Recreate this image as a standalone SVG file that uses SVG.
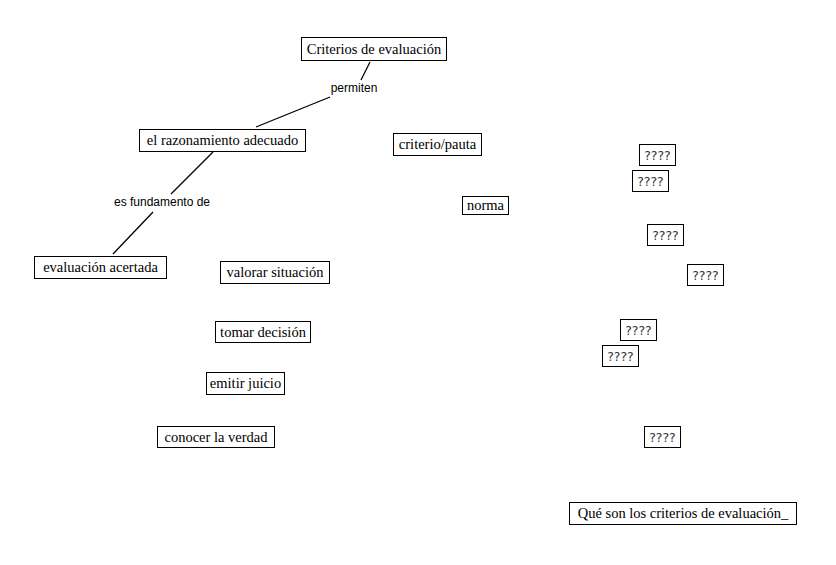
<svg xmlns="http://www.w3.org/2000/svg" width="836" height="565" viewBox="0 0 836 565">
<style>
.b{fill:#fff;stroke:#000;stroke-width:1}
.t{font-family:"Liberation Serif",serif;font-size:14.5px;fill:#000;text-anchor:middle}
.q{font-family:"DejaVu Sans",sans-serif;font-size:12.5px;fill:#333;text-anchor:middle}
.l{font-family:"Liberation Sans",sans-serif;font-size:12px;fill:#000;text-anchor:middle}
.c{stroke:#000;stroke-width:1.3;fill:none}
</style>
<rect width="836" height="565" fill="#fff"/>
<g id="connectors">
<line class="c" x1="370" y1="62" x2="361" y2="80"/>
<line class="c" x1="330" y1="97" x2="256" y2="127"/>
<line class="c" x1="213" y1="152" x2="171" y2="194"/>
<line class="c" x1="153" y1="212" x2="113" y2="254"/>
<text class="l" x="354" y="92">permiten</text>
<text class="l" x="162" y="206">es fundamento de</text>
</g>
<g id="n1"><rect class="b" x="301.5" y="37.5" width="145" height="23"/><text class="t" x="374" y="54">Criterios de evaluación</text></g>
<g id="n2"><rect class="b" x="139.5" y="129.5" width="166" height="22"/><text class="t" x="222.5" y="145">el razonamiento adecuado</text></g>
<g id="n3"><rect class="b" x="34.5" y="256.5" width="132" height="22"/><text class="t" x="100.5" y="272">evaluación acertada</text></g>
<g id="n4"><rect class="b" x="393.5" y="133.5" width="88" height="22"/><text class="t" x="437.5" y="149">criterio/pauta</text></g>
<g id="n5"><rect class="b" x="462.5" y="196.5" width="46" height="18"/><text class="t" x="485.5" y="210">norma</text></g>
<g id="n6"><rect class="b" x="220.5" y="261.5" width="109" height="22"/><text class="t" x="275" y="277">valorar situación</text></g>
<g id="n7"><rect class="b" x="215.5" y="321.5" width="95" height="21"/><text class="t" x="263" y="337">tomar decisión</text></g>
<g id="n8"><rect class="b" x="206.5" y="372.5" width="78" height="22"/><text class="t" x="245.5" y="388">emitir juicio</text></g>
<g id="n9"><rect class="b" x="157.5" y="426.5" width="117" height="21"/><text class="t" x="216" y="442">conocer la verdad</text></g>
<g id="q1"><rect class="b" x="639.5" y="144.5" width="36" height="21"/><text class="q" x="657.5" y="160">????</text></g>
<g id="q2"><rect class="b" x="632.5" y="170.5" width="36" height="21"/><text class="q" x="650.5" y="186">????</text></g>
<g id="q3"><rect class="b" x="647.5" y="224.5" width="36" height="21"/><text class="q" x="665.5" y="240">????</text></g>
<g id="q4"><rect class="b" x="687.5" y="264.5" width="36" height="21"/><text class="q" x="705.5" y="280">????</text></g>
<g id="q5"><rect class="b" x="620.5" y="319.5" width="36" height="21"/><text class="q" x="638.5" y="335">????</text></g>
<g id="q6"><rect class="b" x="602.5" y="345.5" width="36" height="21"/><text class="q" x="620.5" y="361">????</text></g>
<g id="q7"><rect class="b" x="644.5" y="426.5" width="36" height="21"/><text class="q" x="662.5" y="442">????</text></g>
<g id="n10"><rect class="b" x="569.5" y="502.5" width="227" height="22"/><text class="t" x="683" y="518">Qué son los criterios de evaluación_</text></g>
</svg>
